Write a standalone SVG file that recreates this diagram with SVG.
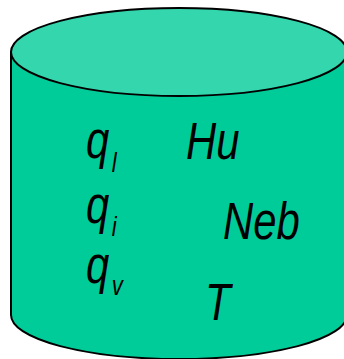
<svg xmlns="http://www.w3.org/2000/svg" width="344" height="359" viewBox="0 0 344 359">
  <style>
    .lbl { font-family: "Liberation Sans", Arial, sans-serif; font-style: italic; fill: #000; }
    .main { font-size: 51px; }
    .sub { font-size: 27px; }
  </style>
  <g id="cylinder">
    <path d="M11,52 L11,315 A168,44 0 0 0 347,315 L347,52 Z" fill="#00CC99" stroke="#000" stroke-width="2"/>
    <ellipse cx="179" cy="52" rx="168" ry="44" fill="#33D6AD" stroke="#000" stroke-width="2"/>
  </g>
  <g id="labels">
    <text class="lbl main" transform="translate(86,158) scale(0.82,1)">q<tspan class="sub" dx="3" dy="14">l</tspan></text>
    <text class="lbl main" transform="translate(86,223) scale(0.82,1)">q<tspan class="sub" dx="3" dy="13">i</tspan></text>
    <text class="lbl main" transform="translate(86,283) scale(0.82,1)">q<tspan class="sub" dx="3" dy="12">v</tspan></text>
    <text class="lbl main" transform="translate(186,159) scale(0.82,1)">Hu</text>
    <text class="lbl main" transform="translate(223,239) scale(0.82,1)">Neb</text>
    <text class="lbl main" transform="translate(205,320) scale(0.82,1)">T</text>
  </g>
</svg>
